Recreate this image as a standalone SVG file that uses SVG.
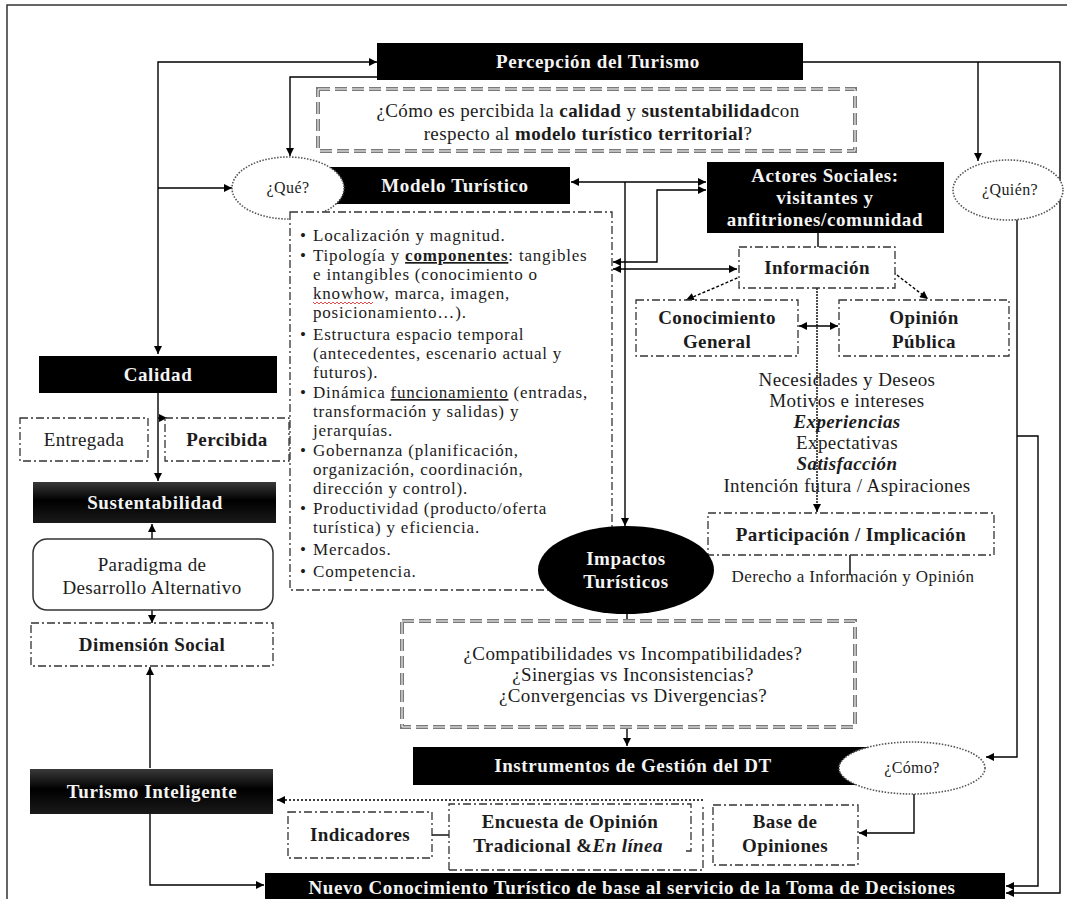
<svg xmlns="http://www.w3.org/2000/svg" width="1067" height="899" viewBox="0 0 1067 899">
<style>
.bx{fill:#000}
.wt{fill:#f4f4f4;font-family:"Liberation Serif",serif;font-weight:bold;font-size:19px;text-anchor:middle;letter-spacing:0.6px}
.dt{fill:#1c1c1c;font-family:"Liberation Serif",serif;font-size:19px;text-anchor:middle;letter-spacing:0.4px}
.bt{fill:#1c1c1c;font-family:"Liberation Serif",serif;font-size:17px;letter-spacing:0.8px}
.b{font-weight:bold}
.dd{fill:#fff;stroke:#333;stroke-width:1.3;stroke-dasharray:8 3 2 3}
.gd{fill:#fff;stroke:#7a7a7a;stroke-width:4;stroke-dasharray:12 5}
.gi{fill:none;stroke:#fff;stroke-width:1;stroke-dasharray:12 5}
.el{fill:#fff;stroke:#555;stroke-width:1.6;stroke-dasharray:1.5 1.5}
.ln{fill:none;stroke:#000;stroke-width:1.4}
</style>
<defs>
<marker id="ah" viewBox="0 0 10 10" refX="10" refY="5" markerWidth="9" markerHeight="8" orient="auto-start-reverse" markerUnits="userSpaceOnUse">
<path d="M0,0 L10,5 L0,10 z" fill="#000"/>
</marker>
<linearGradient id="sheen" x1="0" y1="0" x2="0" y2="1">
<stop offset="0" stop-color="#3a3a3a"/>
<stop offset="0.45" stop-color="#000"/>
<stop offset="1" stop-color="#1a1a1a"/>
</linearGradient>
</defs>
<rect x="7" y="5" width="1090" height="920" fill="#fff" stroke="#333" stroke-width="1.5"/>

<g id="connectors">
<path class="ln" d="M377,62 H158 V354" marker-start="url(#ah)" marker-end="url(#ah)"/>
<path class="ln" d="M158,188 H232" marker-end="url(#ah)"/>
<path class="ln" d="M377,77 H290 V156" marker-end="url(#ah)"/>
<path class="ln" d="M803,62 H1060 V893 H1006" marker-end="url(#ah)"/>
<path class="ln" d="M978,62 V161" marker-end="url(#ah)"/>
<path class="ln" d="M571,182 H706" marker-start="url(#ah)" marker-end="url(#ah)"/>
<path class="ln" d="M625,182 V526" marker-end="url(#ah)"/>
<path class="ln" d="M706,190 H657 V262 H613" marker-start="url(#ah)" marker-end="url(#ah)"/>
<path class="ln" d="M613,269 H737" marker-start="url(#ah)" marker-end="url(#ah)"/>
<path class="ln" d="M818,233 V247"/>
<path class="ln" d="M742,276 L686,300" stroke-dasharray="3 2" marker-end="url(#ah)"/>
<path class="ln" d="M893,272 L928,299" stroke-dasharray="3 2" marker-end="url(#ah)"/>
<path class="ln" d="M799,326 H838" marker-start="url(#ah)" marker-end="url(#ah)"/>
<path class="ln" d="M817,288 V512" stroke-dasharray="2 1" marker-end="url(#ah)"/>
<path class="ln" d="M850,574 V538" marker-end="url(#ah)"/>
<path class="ln" d="M1017,219 V757 H986" marker-end="url(#ah)"/>
<path class="ln" d="M1017,436 H1038 V886 H1006" marker-end="url(#ah)"/>
<path class="ln" d="M627,613 V621"/>
<path class="ln" d="M627,727 V746" marker-end="url(#ah)"/>
<path class="ln" d="M914,794 V833 H859" marker-end="url(#ah)"/>
<path class="ln" d="M703,800 H277" stroke="#555" stroke-dasharray="2 2" marker-end="url(#ah)"/>
<path class="ln" d="M432,835 H449"/>
<path class="ln" d="M150,768 V667" marker-end="url(#ah)"/>
<path class="ln" d="M150,814 V885 H264" marker-end="url(#ah)"/>
<path class="ln" d="M158,393 V481" marker-end="url(#ah)"/>
<path class="ln" d="M158,418 H167" marker-end="url(#ah)"/>
<path class="ln" d="M152,539 V524" marker-end="url(#ah)"/>
<path class="ln" d="M152,610 V623" marker-end="url(#ah)"/>
</g>

<g id="percepcion">
<rect class="bx" x="377" y="43" width="426" height="37"/>
<text class="wt" x="598" y="68">Percepción del Turismo</text>
</g>

<g id="pregunta-calidad">
<rect class="gd" x="318" y="89" width="537" height="62"/>
<rect class="gi" x="318" y="89" width="537" height="62"/>
<text class="dt" x="588" y="117">¿Cómo es percibida la <tspan class="b">calidad</tspan> y <tspan class="b">sustentabilidad</tspan>con</text>
<text class="dt" x="588" y="140">respecto al <tspan class="b">modelo turístico territorial</tspan>?</text>
</g>

<g id="modelo">
<rect class="bx" x="330" y="167" width="240" height="37"/>
<text class="wt" x="455" y="192">Modelo Turístico</text>
</g>

<g id="que">
<ellipse class="el" cx="288" cy="188" rx="56" ry="31"/>
<text class="dt" x="288" y="193" style="font-size:16px">¿Qué?</text>
</g>

<g id="actores">
<rect class="bx" x="707" y="162" width="237" height="71"/>
<text class="wt" x="825" y="182">Actores Sociales:</text>
<text class="wt" x="825" y="204">visitantes y</text>
<text class="wt" x="825" y="226">anfitriones/comunidad</text>
</g>

<g id="quien">
<ellipse class="el" cx="1008" cy="190" rx="55" ry="30"/>
<text class="dt" x="1010" y="195" style="font-size:16px">¿Quién?</text>
</g>

<g id="componentes">
<rect class="dd" x="290" y="212" width="322" height="378"/>
<g class="bt">
<text x="300" y="241">•</text><text x="313" y="241">Localización y magnitud.</text>
<text x="300" y="261">•</text><text x="313" y="261">Tipología y <tspan class="b" text-decoration="underline">componentes</tspan>: tangibles</text>
<text x="313" y="280">e intangibles (conocimiento o</text>
<text x="313" y="299">knowhow, marca, imagen,</text>
<text x="313" y="318">posicionamiento…).</text>
<text x="300" y="340">•</text><text x="313" y="340">Estructura espacio temporal</text>
<text x="313" y="359">(antecedentes, escenario actual y</text>
<text x="313" y="378">futuros).</text>
<text x="300" y="398">•</text><text x="313" y="398">Dinámica <tspan text-decoration="underline">funcionamiento</tspan> (entradas,</text>
<text x="313" y="417">transformación y salidas) y</text>
<text x="313" y="436">jerarquías.</text>
<text x="300" y="456">•</text><text x="313" y="456">Gobernanza (planificación,</text>
<text x="313" y="475">organización, coordinación,</text>
<text x="313" y="494">dirección y control).</text>
<text x="300" y="514">•</text><text x="313" y="514">Productividad (producto/oferta</text>
<text x="313" y="533">turística) y eficiencia.</text>
<text x="300" y="555">•</text><text x="313" y="555">Mercados.</text>
<text x="300" y="577">•</text><text x="313" y="577">Competencia.</text>
</g>
<path d="M313,302 l2,2 l2,-2 l2,2 l2,-2 l2,2 l2,-2 l2,2 l2,-2 l2,2 l2,-2 l2,2 l2,-2 l2,2 l2,-2 l2,2 l2,-2 l2,2 l2,-2 l2,2 l2,-2 l2,2 l2,-2 l2,2 l2,-2 l2,2 l2,-2 l2,2 l2,-2 l2,2 l2,-2" fill="none" stroke="#d02020" stroke-width="0.8"/>
</g>

<g id="informacion">
<rect class="dd" x="739" y="247" width="156" height="41"/>
<text class="dt b" x="817" y="274">Información</text>
</g>

<g id="conocimiento">
<rect class="dd" x="636" y="300" width="162" height="56"/>
<text class="dt b" x="717" y="324">Conocimiento</text>
<text class="dt b" x="717" y="348">General</text>
</g>

<g id="opinion">
<rect class="dd" x="839" y="300" width="170" height="56"/>
<text class="dt b" x="924" y="324">Opinión</text>
<text class="dt b" x="924" y="348">Pública</text>
</g>

<g id="necesidades">
<text class="dt" x="847" y="386">Necesidades y Deseos</text>
<text class="dt" x="847" y="407">Motivos e intereses</text>
<text class="dt b" x="847" y="428" font-style="italic">Experiencias</text>
<text class="dt" x="847" y="449">Expectativas</text>
<text class="dt b" x="847" y="470" font-style="italic">Satisfacción</text>
<text class="dt" x="847" y="492">Intención futura / Aspiraciones</text>
</g>

<g id="participacion">
<rect class="dd" x="708" y="513" width="286" height="42"/>
<text class="dt b" x="851" y="541">Participación / Implicación</text>
<text class="dt" x="853" y="582" style="font-size:17px">Derecho a Información y Opinión</text>
</g>

<g id="impactos">
<ellipse class="bx" cx="626" cy="570" rx="88" ry="44"/>
<text class="wt" x="626" y="565">Impactos</text>
<text class="wt" x="626" y="588">Turísticos</text>
</g>

<g id="compatibilidades">
<rect class="gd" x="402" y="621" width="453" height="106"/>
<rect class="gi" x="402" y="621" width="453" height="106"/>
<text class="dt" x="633" y="660">¿Compatibilidades  vs Incompatibilidades?</text>
<text class="dt" x="633" y="681">¿Sinergias vs Inconsistencias?</text>
<text class="dt" x="633" y="702">¿Convergencias vs Divergencias?</text>
</g>

<g id="instrumentos">
<rect class="bx" x="413" y="747" width="480" height="38"/>
<text class="wt" x="633" y="772">Instrumentos de Gestión del DT</text>
</g>

<g id="como">
<ellipse class="el" cx="912" cy="768" rx="73" ry="26"/>
<text class="dt" x="912" y="773" style="font-size:16px">¿Cómo?</text>
</g>

<g id="base-opiniones">
<rect class="dd" x="713" y="805" width="145" height="60"/>
<text class="dt b" x="785" y="828">Base de</text>
<text class="dt b" x="785" y="852">Opiniones</text>
</g>

<g id="encuesta">
<path d="M449,870 V804 H691 V851 H685" fill="#fff" stroke="#333" stroke-width="1.3" stroke-dasharray="8 3 2 3"/>
<path d="M449,870 H703 V806" fill="none" stroke="#333" stroke-width="1.3" stroke-dasharray="8 3 2 3"/>
<text class="dt b" x="570" y="828">Encuesta de Opinión</text>
<text class="dt b" x="568" y="852">Tradicional &amp;<tspan font-style="italic">En línea</tspan></text>
</g>

<g id="indicadores">
<rect class="dd" x="288" y="812" width="144" height="46"/>
<text class="dt b" x="360" y="841">Indicadores</text>
</g>

<g id="nuevo-conocimiento">
<rect class="bx" x="265" y="873" width="740" height="30"/>
<text class="wt" x="632" y="894">Nuevo Conocimiento Turístico de base al servicio de la Toma de Decisiones</text>
</g>

<g id="turismo-inteligente">
<rect x="30" y="769" width="243" height="45" fill="url(#sheen)"/>
<text class="wt" x="152" y="798">Turismo Inteligente</text>
</g>

<g id="dimension-social">
<rect class="dd" x="31" y="623" width="242" height="43"/>
<text class="dt b" x="152" y="651">Dimensión Social</text>
</g>

<g id="paradigma">
<rect x="33" y="539" width="240" height="71" rx="14" fill="#fff" stroke="#333" stroke-width="1.5"/>
<text class="dt" x="152" y="571">Paradigma de</text>
<text class="dt" x="152" y="594">Desarrollo Alternativo</text>
</g>

<g id="sustentabilidad">
<rect x="33" y="482" width="243" height="41" fill="url(#sheen)"/>
<text class="wt" x="155" y="509">Sustentabilidad</text>
</g>

<g id="entregada">
<rect class="dd" x="20" y="418" width="128" height="43"/>
<text class="dt" x="84" y="446">Entregada</text>
</g>

<g id="percibida">
<rect class="dd" x="165" y="418" width="124" height="43"/>
<text class="dt b" x="227" y="446">Percibida</text>
</g>

<g id="calidad">
<rect class="bx" x="39" y="356" width="238" height="37"/>
<text class="wt" x="158" y="381">Calidad</text>
</g>
</svg>
